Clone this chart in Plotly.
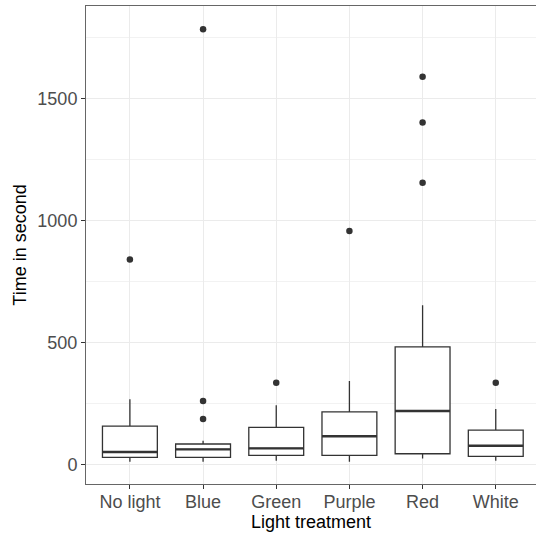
import plotly.graph_objects as go

categories = ["No light", "Blue", "Green", "Purple", "Red", "White"]
q1 = [30, 30, 38, 38, 45, 34]
median = [52, 63, 67, 117, 220, 78]
q3 = [158, 85, 153, 217, 483, 142]
lower_whisker = [12, 12, 16, 12, 25, 16]
upper_whisker = [268, 98, 244, 343, 654, 228]
outliers = [[841], [1785, 261, 187], [336], [958], [1590, 1403, 1156], [336]]

BOX_W = 0.75
LINE = "#333333"

fig = go.Figure()
for i, cat in enumerate(categories):
    fig.add_trace(go.Box(
        x=[i], q1=[q1[i]], median=[median[i]], q3=[q3[i]],
        lowerfence=[lower_whisker[i]], upperfence=[upper_whisker[i]],
        width=BOX_W, whiskerwidth=0, fillcolor="white",
        line=dict(color=LINE, width=1.3), boxpoints=False,
        showlegend=False, hoverinfo="skip", name=cat,
    ))
    # thicker median line (ggplot style)
    fig.add_trace(go.Scatter(
        x=[i - BOX_W / 2, i + BOX_W / 2], y=[median[i], median[i]],
        mode="lines", line=dict(color=LINE, width=2.4),
        showlegend=False, hoverinfo="skip",
    ))
    fig.add_trace(go.Scatter(
        x=[i] * len(outliers[i]), y=outliers[i], mode="markers",
        marker=dict(color=LINE, size=6.5),
        showlegend=False, hoverinfo="skip",
    ))

font_family = "Liberation Sans, Arial, sans-serif"
fig.update_layout(
    width=536, height=538,
    margin=dict(l=86, r=0, t=6, b=54, autoexpand=False),
    paper_bgcolor="white", plot_bgcolor="white",
    font=dict(family=font_family, size=18, color="#000000"),
    xaxis=dict(
        range=[-0.6, 5.55], tickmode="array", automargin=False,
        tickvals=list(range(len(categories))), ticktext=categories,
        showgrid=True, gridcolor="#EBEBEB", gridwidth=1,
        zeroline=False, showline=True, linecolor="#666666", linewidth=1,
        mirror=True, ticks="outside", ticklen=4, tickcolor=LINE,
        ticklabelstandoff=-3,
        tickfont=dict(size=18, color="#4D4D4D"),
        title=dict(text="Light treatment", font=dict(size=18, color="#000000"), standoff=3),
    ),
    yaxis=dict(
        range=[-79, 1880], tickmode="array", tickvals=[0, 500, 1000, 1500],
        automargin=False,
        showgrid=True, gridcolor="#EBEBEB", gridwidth=1,
        minor=dict(tickvals=[250, 750, 1250, 1750], showgrid=True,
                   gridcolor="#F2F2F2", gridwidth=0.6, ticks=""),
        zeroline=False, showline=True, linecolor="#666666", linewidth=1,
        ticks="outside", ticklen=4, tickcolor=LINE,
        tickfont=dict(size=18, color="#4D4D4D"),
        title=dict(text="Time in second", font=dict(size=18, color="#000000"), standoff=6),
    ),
)

fig.write_html("out.html", config={"displayModeBar": False},
               post_script="document.body.style.margin='0';")
